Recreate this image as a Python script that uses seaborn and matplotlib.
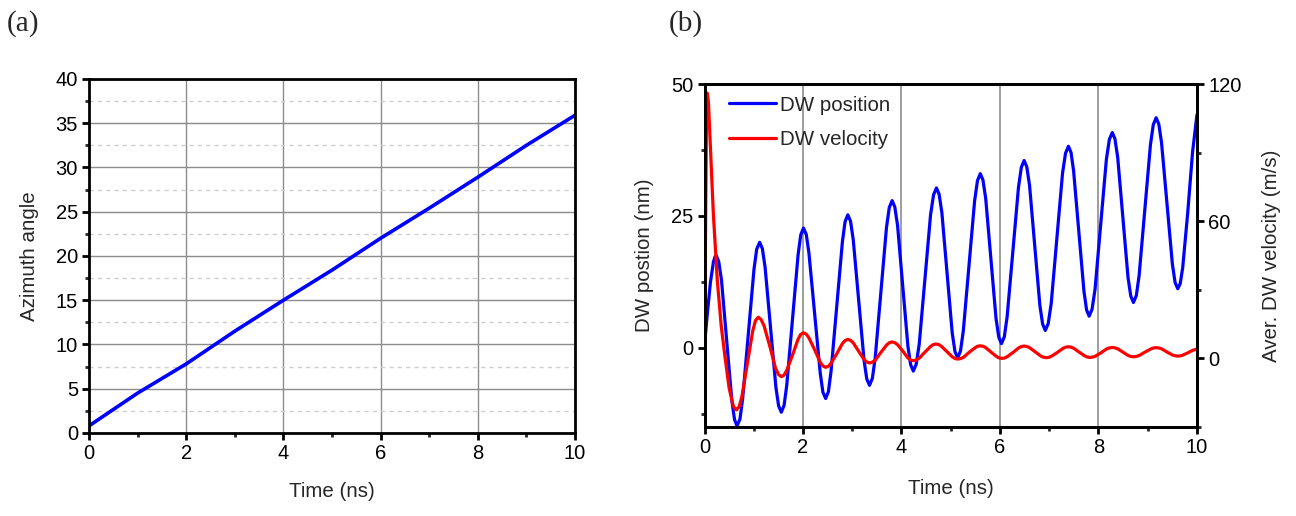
import numpy as np
import pandas as pd
import matplotlib
matplotlib.use("Agg")
import matplotlib.pyplot as plt
from matplotlib.ticker import MultipleLocator
import seaborn as sns

# ---------------- data ----------------
# Panel (a): azimuth angle vs time
az_time = [0, 1, 2, 3, 4, 5, 6, 7, 8, 9, 10]
az_angle = [0.8, 4.5, 7.8, 11.5, 15.0, 18.4, 22.0, 25.4, 28.9, 32.5, 35.9]

# Panel (b): DW position (nm) vs time
pos_time = [0.00, 0.06, 0.12, 0.18, 0.21, 0.24, 0.29, 0.345, 0.45, 0.555, 0.61, 0.66,
            0.72, 0.775, 0.89, 1.005, 1.06, 1.12, 1.175, 1.23, 1.34, 1.45, 1.505, 1.56,
            1.616, 1.67, 1.785, 1.90, 1.954, 2.01, 2.066, 2.12, 2.235, 2.35, 2.404, 2.46,
            2.516, 2.57, 2.685, 2.80, 2.854, 2.91, 2.965, 3.02, 3.13, 3.24, 3.295, 3.35,
            3.408, 3.465, 3.58, 3.695, 3.752, 3.81, 3.864, 3.92, 4.025, 4.13, 4.186, 4.24,
            4.299, 4.36, 4.475, 4.59, 4.651, 4.71, 4.764, 4.82, 4.925, 5.03, 5.086, 5.14,
            5.198, 5.255, 5.37, 5.485, 5.543, 5.60, 5.654, 5.71, 5.815, 5.92, 5.976, 6.03,
            6.088, 6.145, 6.26, 6.375, 6.433, 6.49, 6.544, 6.60, 6.705, 6.81, 6.866, 6.92,
            6.979, 7.04, 7.155, 7.27, 7.331, 7.39, 7.443, 7.495, 7.60, 7.705, 7.758, 7.81,
            7.869, 7.93, 8.045, 8.16, 8.221, 8.28, 8.334, 8.39, 8.495, 8.60, 8.656, 8.71,
            8.768, 8.825, 8.94, 9.055, 9.113, 9.17, 9.225, 9.28, 9.39, 9.50, 9.555, 9.61,
            9.66, 9.71, 9.81, 9.91, 10.0]
pos_nm = [0.5, 6.7, 12.4, 16.2, 17.2, 17.5, 16.3, 12.8, 1.4, -10.0, -13.6, -14.8,
          -13.5, -9.6, 2.6, 14.9, 18.7, 20.0, 18.8, 15.3, 3.9, -7.5, -11.0, -12.2,
          -10.9, -7.1, 5.2, 17.6, 21.4, 22.7, 21.5, 18.0, 6.6, -4.8, -8.4, -9.6,
          -8.3, -4.4, 7.8, 20.1, 23.9, 25.2, 24.0, 20.5, 9.0, -2.4, -5.9, -7.1,
          -5.8, -2.0, 10.4, 22.8, 26.6, 27.9, 26.7, 23.2, 11.7, 0.3, -3.2, -4.4,
          -3.1, 0.7, 12.9, 25.2, 29.0, 30.3, 29.1, 25.6, 14.2, 2.8, -0.7, -1.9,
          -0.6, 3.2, 15.5, 27.9, 31.7, 33.0, 31.8, 28.3, 16.9, 5.5, 2.0, 0.8,
          2.1, 5.9, 18.1, 30.4, 34.2, 35.5, 34.3, 30.8, 19.4, 8.0, 4.5, 3.3,
          4.6, 8.4, 20.7, 33.1, 36.9, 38.2, 37.0, 33.5, 22.1, 10.7, 7.2, 6.0,
          7.3, 11.1, 23.4, 35.7, 39.5, 40.8, 39.6, 36.1, 24.7, 13.3, 9.8, 8.6,
          9.9, 13.7, 26.1, 38.5, 42.3, 43.6, 42.4, 38.9, 27.4, 15.9, 12.4, 11.2,
          12.2, 15.2, 25.4, 37.1, 44.2]

# Panel (b): averaged DW velocity (m/s) vs time
vel_time = [0.00, 0.02, 0.04, 0.057, 0.08, 0.12, 0.18, 0.26, 0.34, 0.42, 0.50, 0.58, 0.615, 0.65,
            0.705, 0.76, 0.87, 0.98, 1.035, 1.09, 1.149, 1.21, 1.33, 1.44, 1.501, 1.56,
            1.616, 1.67, 1.79, 1.90, 1.954, 2.01, 2.066, 2.12, 2.24, 2.35, 2.404, 2.46,
            2.516, 2.57, 2.69, 2.80, 2.854, 2.91, 2.965, 3.02, 3.13, 3.24, 3.295, 3.35,
            3.408, 3.47, 3.58, 3.70, 3.752, 3.81, 3.864, 3.92, 4.03, 4.13, 4.186, 4.24,
            4.298, 4.36, 4.47, 4.59, 4.643, 4.70, 4.755, 4.81, 4.92, 5.03, 5.085, 5.14,
            5.198, 5.26, 5.37, 5.49, 5.543, 5.60, 5.655, 5.71, 5.82, 5.93, 5.985, 6.04,
            6.096, 6.15, 6.27, 6.38, 6.434, 6.49, 6.546, 6.60, 6.72, 6.83, 6.884, 6.94,
            6.996, 7.05, 7.17, 7.28, 7.334, 7.39, 7.445, 7.50, 7.61, 7.72, 7.775, 7.83,
            7.886, 7.94, 8.06, 8.17, 8.224, 8.28, 8.334, 8.39, 8.50, 8.60, 8.656, 8.71,
            8.768, 8.83, 8.94, 9.06, 9.113, 9.17, 9.225, 9.28, 9.39, 9.50, 9.555, 9.61,
            9.66, 9.71, 9.81, 9.91, 10.0]
vel_ms = [0.0, 55.0, 105.0, 116.0, 112.0, 92.0, 63.0, 34.0, 14.0, 0.0, -13.0, -20.5, -21.9, -22.5,
          -21.0, -16.6, -2.2, 12.1, 16.5, 18.0, 17.0, 14.2, 5.0, -4.2, -7.0, -8.0,
          -7.3, -5.2, 1.6, 8.4, 10.5, 11.2, 10.6, 9.0, 3.6, -1.7, -3.3, -3.9,
          -3.4, -2.1, 2.2, 6.5, 7.8, 8.3, 7.9, 6.8, 3.1, -0.5, -1.6, -2.0,
          -1.65, -0.7, 2.6, 5.9, 6.85, 7.2, 6.9, 6.0, 3.1, 0.2, -0.7, -1.0,
          -0.7, 0.1, 2.6, 5.2, 6.0, 6.3, 6.05, 5.3, 3.0, 0.7, -0.05, -0.3,
          -0.1, 0.5, 2.6, 4.6, 5.3, 5.5, 5.3, 4.7, 2.7, 0.8, 0.2, 0.0,
          0.2, 0.8, 2.7, 4.6, 5.2, 5.4, 5.2, 4.7, 2.8, 1.0, 0.5, 0.3,
          0.5, 1.0, 2.7, 4.4, 4.9, 5.1, 4.9, 4.4, 2.7, 1.1, 0.6, 0.4,
          0.6, 1.0, 2.6, 4.2, 4.6, 4.8, 4.6, 4.2, 2.7, 1.3, 0.85, 0.7,
          0.85, 1.3, 2.7, 4.1, 4.55, 4.7, 4.55, 4.2, 2.8, 1.5, 1.15, 1.0,
          1.1, 1.4, 2.4, 3.5, 4.1]

# ---------------- style ----------------
sns.set_theme(style="white")
plt.rcParams['font.family'] = ['Liberation Sans', 'DejaVu Sans']
plt.rcParams['axes.unicode_minus'] = False
plt.rcParams['lines.solid_joinstyle'] = 'round'
plt.rcParams['lines.solid_capstyle'] = 'round'
FS_TICK = 14.5
FS_LAB = 14.8

fig = plt.figure(figsize=(12.96, 5.16), dpi=100)
axA = fig.add_axes([0.0687, 0.161, 0.375, 0.686])
axB = fig.add_axes([0.5436, 0.1725, 0.380, 0.6647])


def style_spines(ax):
    for s in ax.spines.values():
        s.set_visible(True)
        s.set_color('black')
        s.set_linewidth(2.0)


# ---------------- panel (a) ----------------
dfa = pd.DataFrame({"t": az_time, "phi": az_angle})
sns.lineplot(data=dfa, x="t", y="phi", ax=axA, color="#0000ff", linewidth=2.6)
axA.set_xlim(0, 10)
axA.set_ylim(0, 40)
axA.xaxis.set_major_locator(MultipleLocator(2))
axA.xaxis.set_minor_locator(MultipleLocator(1))
axA.yaxis.set_major_locator(MultipleLocator(5))
axA.yaxis.set_minor_locator(MultipleLocator(2.5))
axA.grid(True, which="major", color="#8c8c8c", linewidth=1.0, linestyle="-")
axA.grid(True, which="minor", axis="y", color="#cfcfcf", linewidth=1.0, linestyle=(0, (3, 3)))
axA.set_axisbelow(True)
style_spines(axA)
axA.tick_params(which="major", direction="out", length=5, width=2, labelsize=FS_TICK,
                left=True, bottom=True, pad=3, colors="black")
axA.tick_params(which="minor", direction="out", length=3, width=2, left=True, bottom=True)
axA.set_xlabel("Time (ns)", fontsize=FS_LAB, labelpad=14)
axA.set_ylabel("Azimuth angle", fontsize=FS_LAB, labelpad=12)

# ---------------- panel (b) ----------------
dfp = pd.DataFrame({"t": pos_time, "x": pos_nm})
dfv = pd.DataFrame({"t": vel_time, "v": vel_ms})
axB2 = axB.twinx()
sns.lineplot(data=dfp, x="t", y="x", ax=axB, color="#0000ff", linewidth=2.3, label="DW position")
sns.lineplot(data=dfv, x="t", y="v", ax=axB2, color="#ff0000", linewidth=2.3, label="DW velocity")
axB.set_xlim(0, 10)
axB.set_ylim(-15, 50)
axB2.set_ylim(-30, 120)
axB.xaxis.set_major_locator(MultipleLocator(2))
axB.xaxis.set_minor_locator(MultipleLocator(1))
axB.yaxis.set_major_locator(MultipleLocator(25))
axB.yaxis.set_minor_locator(MultipleLocator(12.5))
axB2.yaxis.set_major_locator(MultipleLocator(60))
axB2.yaxis.set_minor_locator(MultipleLocator(30))
axB.grid(True, which="major", axis="x", color="#8c8c8c", linewidth=1.2)
axB.grid(False, axis="y")
axB2.grid(False)
axB.set_axisbelow(True)
style_spines(axB)
style_spines(axB2)
axB.tick_params(which="major", direction="out", length=5, width=2, labelsize=FS_TICK,
                left=True, bottom=True, pad=3, colors="black")
axB.tick_params(which="minor", direction="out", length=3, width=2, left=True, bottom=True)
axB2.tick_params(which="major", direction="out", length=5, width=2, labelsize=FS_TICK,
                 right=True, pad=3, colors="black")
axB2.tick_params(which="minor", direction="out", length=3, width=2, right=True)
axB.set_xlabel("Time (ns)", fontsize=FS_LAB, labelpad=16)
axB.set_ylabel("DW postion (nm)", fontsize=FS_LAB, labelpad=12)
axB2.set_ylabel("Aver. DW velocity (m/s)", fontsize=FS_LAB, labelpad=15)

h1, l1 = axB.get_legend_handles_labels()
h2, l2 = axB2.get_legend_handles_labels()
if axB.get_legend() is not None:
    axB.get_legend().remove()
if axB2.get_legend() is not None:
    axB2.get_legend().remove()
axB2.legend(h1 + h2, l1 + l2, loc="upper left", bbox_to_anchor=(0.02, 1.008),
            frameon=False, fontsize=FS_LAB, handlelength=2.3, handletextpad=0.2,
            labelspacing=0.75, borderaxespad=0.3)

# panel labels
fig.text(0.005, 0.955, "(a)", fontsize=21, family=["Liberation Serif", "DejaVu Serif"],
         va="center", ha="left")
fig.text(0.516, 0.955, "(b)", fontsize=21, family=["Liberation Serif", "DejaVu Serif"],
         va="center", ha="left")

fig.savefig("out.png", dpi=100)
